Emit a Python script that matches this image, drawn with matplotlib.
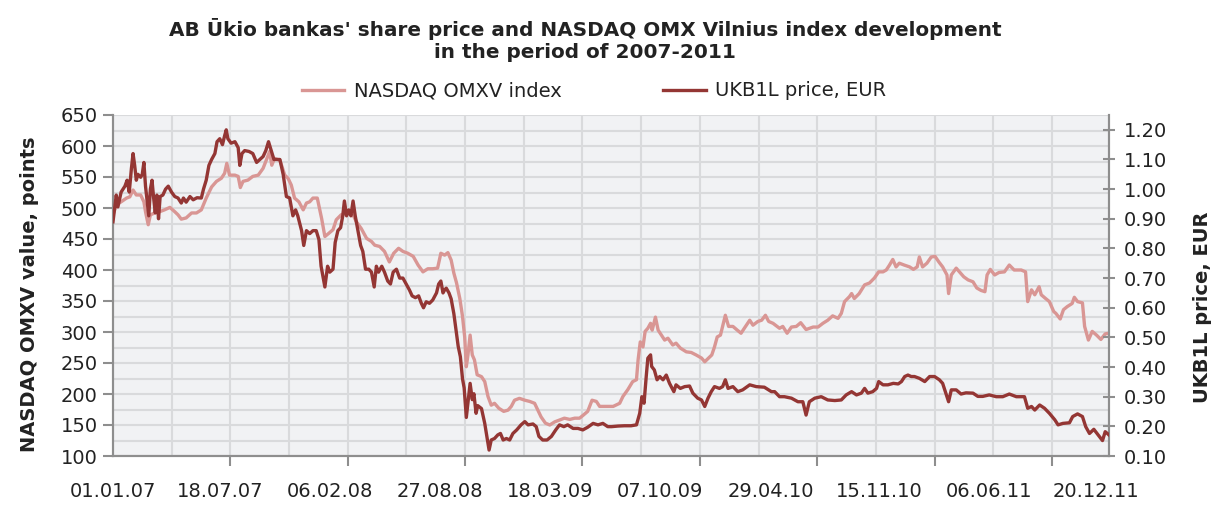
import numpy as np
import pandas as pd
import matplotlib
matplotlib.use("Agg")
import matplotlib.pyplot as plt
from matplotlib.ticker import MultipleLocator, FixedLocator
from matplotlib.lines import Line2D

plt.rcParams['font.family'] = ['DejaVu Sans']

# x values are days counted from 01.01.2007
omxv_days = [0, 6, 15, 25, 31, 37, 43, 51, 57, 60, 65, 69, 77, 86, 95, 105, 114, 120, 126, 135,
             145, 154, 163, 172, 182, 191, 200, 206, 210, 215, 225, 231, 235, 240, 249, 258, 268,
             277, 284, 289, 293, 298, 308, 317, 323, 329, 335, 343, 351, 357, 363, 369, 377, 385,
             391, 398, 406, 412, 421, 431, 440, 449, 458, 468, 477, 483, 492, 501, 510, 518, 527,
             535, 544, 554, 563, 572, 581, 590, 599, 605, 612, 618, 624, 629, 634, 640, 645, 649,
             652, 655, 659, 663, 667, 672, 680, 686, 692, 698, 704, 712, 721, 729, 735, 741, 750,
             760, 769, 778, 784, 790, 798, 806, 815, 824, 833, 843, 852, 861, 868, 876, 884, 892,
             898, 907, 923, 935, 941, 950, 959, 966, 969, 973, 978, 982, 987, 992, 995, 1001, 1006,
             1012, 1018, 1024, 1033, 1039, 1047, 1058, 1067, 1076, 1086, 1092, 1099, 1105, 1110,
             1115, 1121, 1125, 1130, 1136, 1144, 1152, 1159, 1165, 1175, 1181, 1190, 1197, 1204,
             1210, 1218, 1230, 1236, 1244, 1252, 1261, 1269, 1279, 1292, 1301, 1310, 1319, 1328,
             1338, 1344, 1350, 1359, 1363, 1368, 1377, 1387, 1396, 1405, 1413, 1421, 1427, 1433,
             1439, 1445, 1451, 1460, 1470, 1477, 1484, 1488, 1494, 1502, 1510, 1517, 1524, 1531,
             1539, 1542, 1547, 1556, 1562, 1570, 1578, 1587, 1594, 1602, 1609, 1613, 1619, 1627,
             1635, 1645, 1654, 1663, 1676, 1684, 1688, 1695, 1701, 1709, 1713, 1721, 1728, 1736,
             1740, 1748, 1754, 1761, 1770, 1774, 1780, 1789, 1793, 1800, 1807, 1815, 1823, 1831, 1838]
omxv_values = [489, 505, 510, 516, 518, 529, 521, 521, 510, 494, 473, 489, 492, 494, 497, 501, 494,
               489, 482, 484, 492, 492, 497, 516, 534, 543, 548, 556, 572, 553, 553, 551, 533, 543,
               545, 551, 553, 564, 580, 591, 569, 580, 577, 553, 548, 537, 516, 510, 497, 508, 510,
               516, 516, 483, 454, 459, 465, 481, 489, 492, 494, 478, 467, 451, 446, 440, 438, 430,
               413, 427, 435, 430, 427, 422, 408, 397, 402, 402, 403, 427, 424, 428, 416, 395, 379,
               354, 325, 292, 244, 263, 295, 263, 255, 231, 228, 220, 196, 182, 185, 177, 172, 174,
               180, 190, 193, 190, 188, 185, 174, 163, 153, 150, 155, 158, 161, 159, 161, 161, 166,
               172, 190, 188, 180, 180, 180, 185, 196, 207, 220, 223, 255, 284, 276, 301, 306, 314,
               303, 324, 303, 295, 287, 290, 279, 282, 274, 268, 267, 263, 258, 252, 258, 263, 276,
               292, 295, 309, 327, 309, 309, 303, 298, 306, 319, 311, 317, 319, 327, 317, 314, 306,
               309, 298, 308, 309, 315, 304, 308, 308, 314, 319, 326, 322, 330, 349, 357, 362, 354,
               362, 376, 379, 387, 397, 397, 400, 408, 417, 405, 411, 408, 405, 401, 405, 421, 405,
               411, 421, 422, 413, 405, 392, 362, 392, 403, 397, 389, 384, 381, 371, 367, 365, 392,
               401, 392, 396, 397, 408, 400, 400, 397, 349, 368, 360, 373, 360, 354, 349, 333, 330,
               321, 336, 341, 346, 356, 349, 347, 309, 287, 301, 295, 288, 297, 298]

ukb_days = [0, 6, 9, 15, 22, 26, 30, 34, 37, 40, 43, 46, 51, 54, 57, 60, 63, 66, 69, 72, 75, 78, 81,
            84, 87, 92, 97, 102, 108, 114, 120, 126, 130, 135, 142, 148, 155, 163, 167, 172, 177,
            182, 188, 192, 197, 202, 206, 209, 212, 218, 225, 231, 234, 238, 243, 251, 258, 265,
            271, 277, 282, 287, 292, 297, 301, 308, 314, 320, 326, 332, 337, 341, 348, 352, 357,
            363, 369, 375, 380, 384, 391, 396, 400, 406, 410, 415, 420, 424, 427, 431, 435, 439,
            443, 447, 452, 457, 461, 466, 472, 477, 482, 486, 490, 496, 501, 507, 512, 517, 523,
            529, 535, 541, 547, 552, 558, 564, 569, 573, 578, 584, 590, 597, 601, 605, 609, 612,
            615, 620, 624, 629, 634, 637, 641, 645, 648, 652, 655, 659, 663, 666, 670, 673, 680,
            686, 690, 694, 698, 704, 710, 715, 720, 726, 732, 738, 745, 753, 760, 766, 775, 781,
            786, 793, 801, 809, 817, 824, 832, 839, 849, 858, 867, 876, 886, 895, 904, 913, 920,
            932, 944, 956, 966, 972, 976, 980, 984, 987, 992, 994, 999, 1004, 1009, 1015, 1021,
            1027, 1035, 1039, 1047, 1055, 1064, 1070, 1079, 1086, 1092, 1098, 1104, 1110, 1119,
            1125, 1130, 1135, 1144, 1153, 1162, 1175, 1187, 1202, 1215, 1221, 1230, 1239, 1252,
            1264, 1273, 1279, 1285, 1295, 1307, 1319, 1332, 1344, 1353, 1363, 1372, 1381, 1387,
            1393, 1402, 1409, 1413, 1421, 1430, 1440, 1449, 1455, 1461, 1467, 1473, 1479, 1488,
            1498, 1507, 1516, 1525, 1531, 1542, 1547, 1556, 1565, 1574, 1587, 1596, 1605, 1617,
            1630, 1642, 1654, 1667, 1682, 1688, 1695, 1701, 1710, 1719, 1728, 1738, 1744, 1753,
            1765, 1771, 1780, 1789, 1795, 1802, 1810, 1818, 1826, 1831, 1838]
ukb_prices = [0.89, 0.98, 0.94, 0.99, 1.01, 1.03, 0.99, 1.07, 1.12, 1.08, 1.03, 1.05, 1.04, 1.05,
              1.09, 1.01, 0.96, 0.91, 1.00, 1.03, 0.97, 0.92, 0.98, 0.90, 0.975, 0.98, 1.00, 1.01,
              0.99, 0.975, 0.97, 0.953, 0.97, 0.956, 0.975, 0.964, 0.971, 0.97, 1.00, 1.03, 1.08,
              1.10, 1.12, 1.16, 1.17, 1.15, 1.18, 1.20, 1.17, 1.155, 1.16, 1.14, 1.08, 1.12, 1.13,
              1.127, 1.12, 1.09, 1.10, 1.11, 1.13, 1.16, 1.13, 1.10, 1.10, 1.10, 1.05, 0.975, 0.97,
              0.91, 0.93, 0.91, 0.86, 0.81, 0.86, 0.85, 0.86, 0.86, 0.83, 0.74, 0.67, 0.74, 0.72,
              0.73, 0.82, 0.86, 0.87, 0.91, 0.96, 0.91, 0.93, 0.91, 0.96, 0.91, 0.86, 0.81, 0.79,
              0.73, 0.73, 0.72, 0.67, 0.74, 0.72, 0.74, 0.72, 0.69, 0.68, 0.72, 0.73, 0.70, 0.70,
              0.68, 0.66, 0.64, 0.634, 0.64, 0.615, 0.60, 0.62, 0.615, 0.626, 0.65, 0.68, 0.69,
              0.65, 0.66, 0.666, 0.65, 0.63, 0.58, 0.51, 0.47, 0.435, 0.36, 0.33, 0.23, 0.28, 0.345,
              0.29, 0.31, 0.244, 0.27, 0.26, 0.21, 0.166, 0.12, 0.154, 0.159, 0.171, 0.176, 0.154,
              0.159, 0.154, 0.176, 0.188, 0.205, 0.216, 0.205, 0.208, 0.199, 0.166, 0.154, 0.154,
              0.166, 0.188, 0.205, 0.199, 0.205, 0.193, 0.193, 0.188, 0.197, 0.21, 0.205, 0.21,
              0.199, 0.199, 0.201, 0.202, 0.202, 0.205, 0.244, 0.30, 0.278, 0.368, 0.43, 0.441,
              0.402, 0.39, 0.357, 0.368, 0.357, 0.373, 0.345, 0.317, 0.34, 0.328, 0.334, 0.336,
              0.312, 0.295, 0.289, 0.267, 0.295, 0.317, 0.334, 0.328, 0.334, 0.357, 0.328, 0.334,
              0.317, 0.323, 0.34, 0.334, 0.332, 0.317, 0.317, 0.30, 0.30, 0.295, 0.283, 0.283,
              0.238, 0.283, 0.295, 0.30, 0.289, 0.287, 0.289, 0.306, 0.317, 0.306, 0.312, 0.328,
              0.312, 0.317, 0.328, 0.351, 0.34, 0.34, 0.345, 0.343, 0.351, 0.368, 0.373, 0.368,
              0.368, 0.362, 0.351, 0.368, 0.368, 0.357, 0.345, 0.283, 0.323, 0.323, 0.309, 0.313,
              0.312, 0.301, 0.301, 0.306, 0.30, 0.30, 0.309, 0.30, 0.30, 0.261, 0.267, 0.255,
              0.272, 0.261, 0.244, 0.222, 0.205, 0.21, 0.212, 0.233, 0.242, 0.233, 0.199, 0.176,
              0.19, 0.171, 0.152, 0.182, 0.171]

tick_dates = ["01.01.07", "18.07.07", "06.02.08", "27.08.08", "18.03.09",
              "07.10.09", "29.04.10", "15.11.10", "06.06.11", "20.12.11"]

start = pd.Timestamp("2007-01-01")
tick_days = [(pd.to_datetime(d, format="%d.%m.%y") - start).days for d in tick_dates]

light = "#D99694"
dark = "#943634"
grid_c = "#D9DADC"
spine_c = "#8E8E8E"
txt_c = "#222222"

fig = plt.figure(figsize=(12.15, 5.14), dpi=100)
ax = fig.add_axes([113 / 1215, 58 / 514, 996 / 1215, 341 / 514])
ax.set_facecolor("#F1F2F4")
ax2 = ax.twinx()

ax.plot(omxv_days, omxv_values, color=light, lw=2.4, zorder=3)
ax2.plot(ukb_days, ukb_prices, color=dark, lw=2.4, zorder=3)

ax.set_xlim(0, 1838)
ax.set_ylim(100, 650)
ax2.set_ylim(0.10, 1.25)

# gridlines
ax.yaxis.set_major_locator(MultipleLocator(50))
ax.yaxis.set_minor_locator(MultipleLocator(25))
ax.grid(axis="y", which="both", color=grid_c, lw=1.5, zorder=0)
for gx in np.arange(108.3, 1838, 108.3):
    ax.axvline(gx, color=grid_c, lw=1.5, zorder=0)
ax.set_axisbelow(True)

ax.set_xticks(tick_days)
ax.set_xticklabels(tick_dates)
ax.xaxis.set_minor_locator(FixedLocator(np.arange(0, 1838, 216.6)))
ax.tick_params(axis="x", which="major", length=0, pad=19, labelsize=14, labelcolor=txt_c)
ax.tick_params(axis="x", which="minor", length=7, width=1.5, color=spine_c, direction="out")
ax.tick_params(axis="y", which="major", length=7, width=1.5, color=spine_c, direction="out",
               labelsize=14, labelcolor=txt_c, pad=4)
ax.tick_params(axis="y", which="minor", length=0)

ax2.set_yticks(np.arange(0.1, 1.21, 0.1))
ax2.set_yticklabels([f"{v:.2f}" for v in np.arange(0.1, 1.21, 0.1)])
ax2.tick_params(axis="y", length=9, width=1.5, color=spine_c, direction="inout",
                labelsize=14, labelcolor=txt_c, pad=6)

for a in (ax, ax2):
    a.spines["top"].set_visible(False)
    for s in ("left", "right", "bottom"):
        a.spines[s].set_color(spine_c)
        a.spines[s].set_linewidth(1.5)

fig.text(30 / 1215, 1 - 294 / 514, "NASDAQ OMXV value, points", rotation=90,
         ha="center", va="center", fontsize=14, fontweight="bold", color=txt_c)
fig.text(1203 / 1215, 1 - 307 / 514, "UKB1L price, EUR", rotation=90,
         ha="center", va="center", fontsize=14, fontweight="bold", color=txt_c)

fig.text(585 / 1215, 1 - 40 / 514,
         "AB Ūkio bankas' share price and NASDAQ OMX Vilnius index development\nin the period of 2007-2011",
         ha="center", va="center", fontsize=14.4, fontweight="bold", color=txt_c, linespacing=1.15)

handles = [Line2D([], [], color=light, lw=2.4), Line2D([], [], color=dark, lw=2.4)]
fig.legend(handles, ["NASDAQ OMXV index", "UKB1L price, EUR"], loc="center",
           bbox_to_anchor=(594 / 1215, 1 - 91 / 514), ncol=2, frameon=False, fontsize=14,
           handlelength=2.2, handletextpad=0.5, columnspacing=5.2, labelcolor=txt_c)

fig.savefig("out.png", dpi=100, facecolor="white")
